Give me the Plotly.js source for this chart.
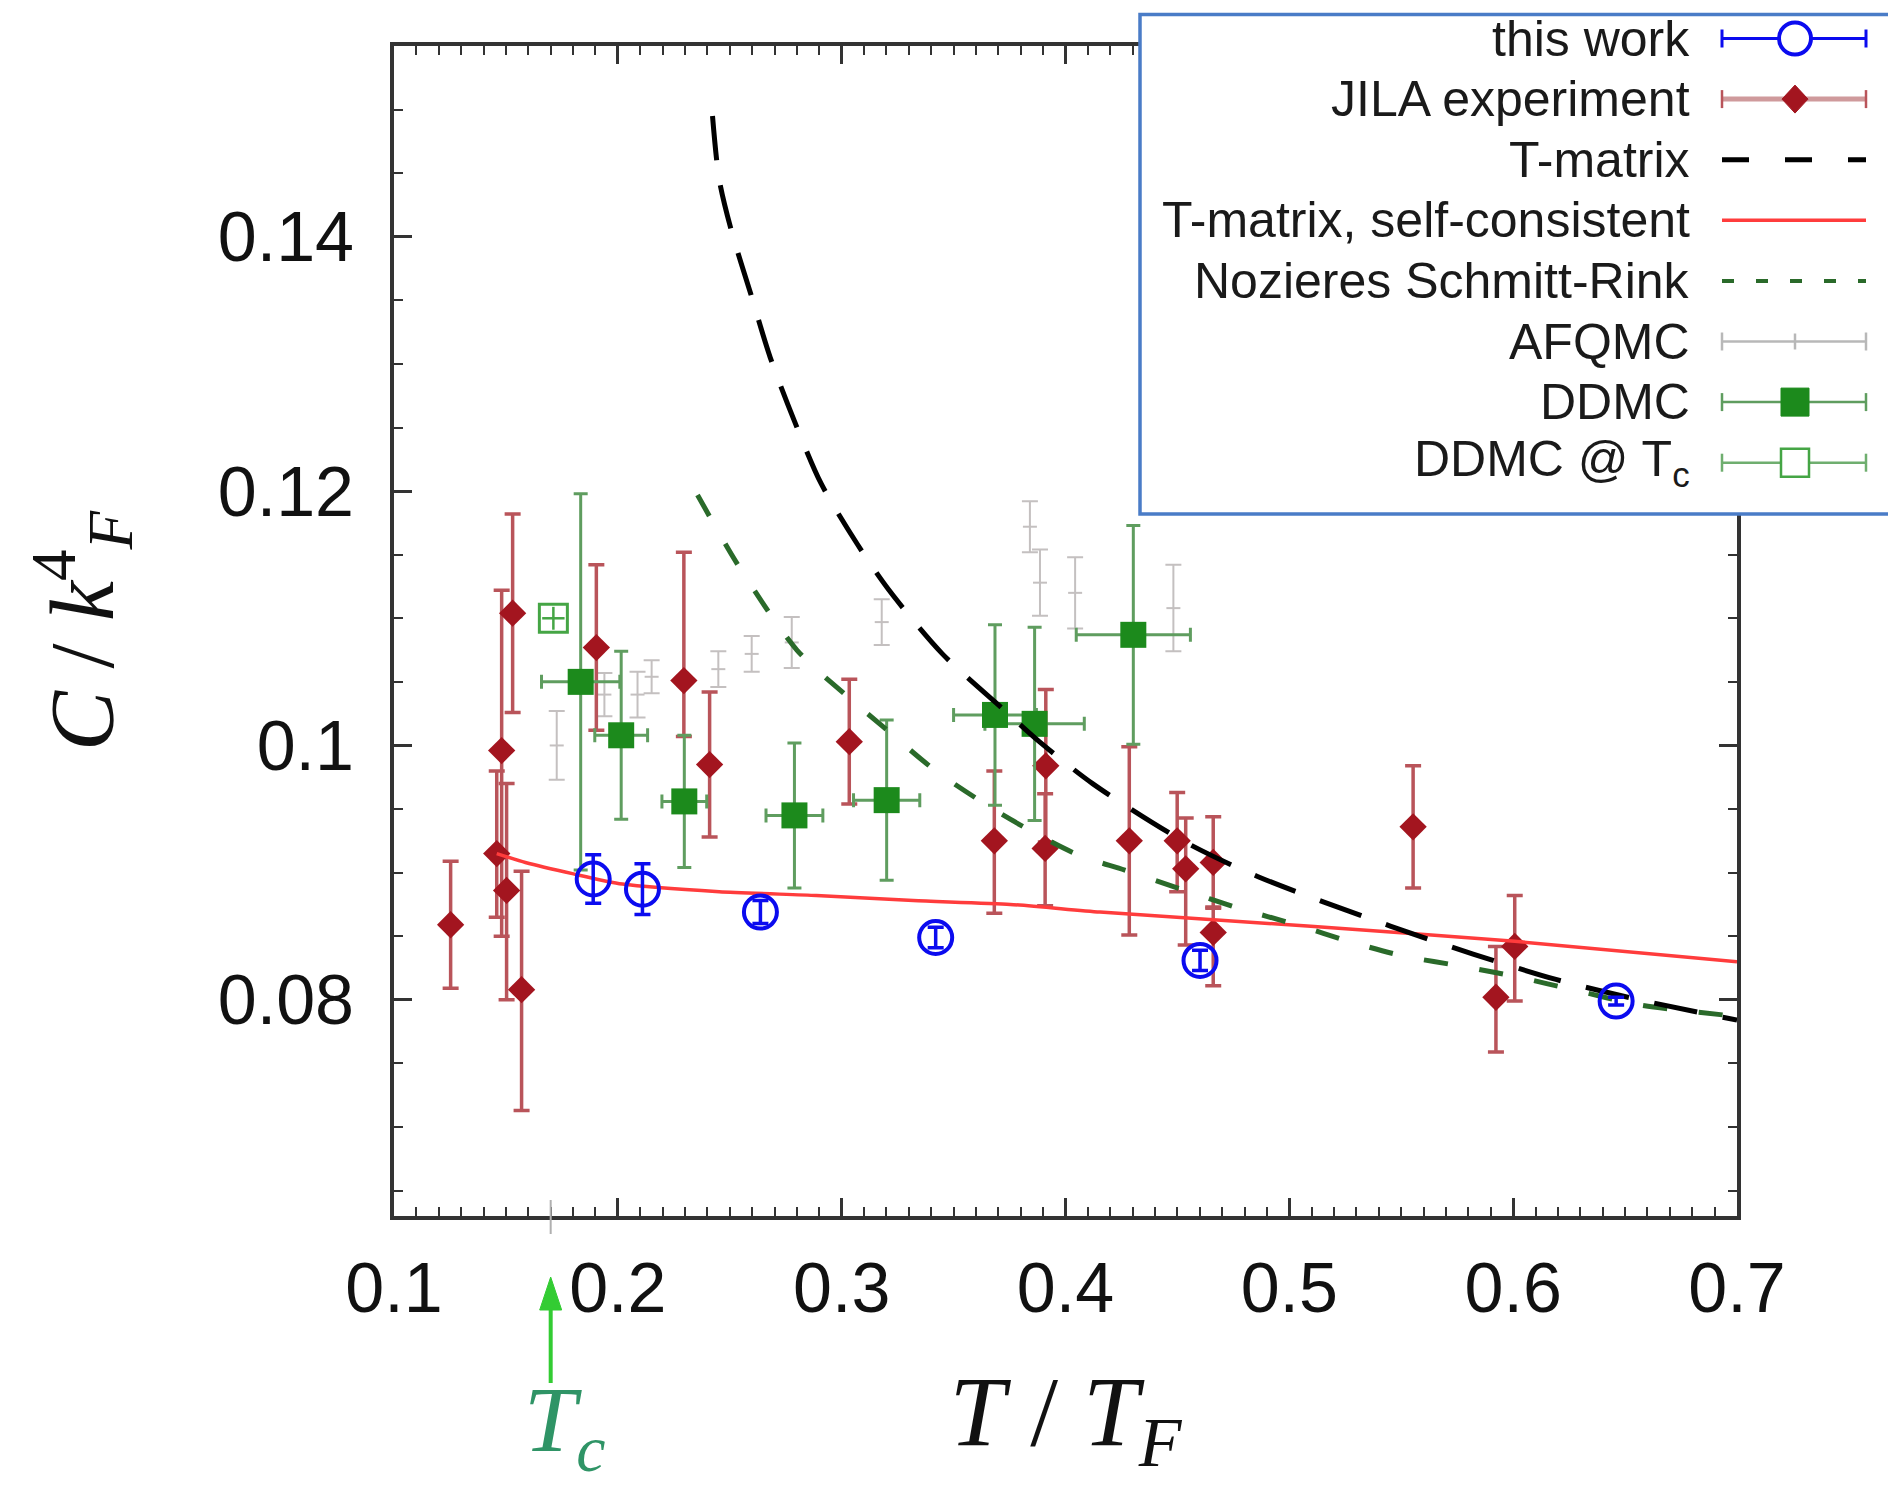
<!DOCTYPE html>
<html>
<head>
<meta charset="utf-8">
<script src="https://cdn.plot.ly/plotly-3.0.1.min.js"></script>
<style>
html,body{margin:0;padding:0;background:#fff;}
#chart{width:1888px;height:1489px;}
</style>
</head>
<body>
<div id="chart"></div>
<script>
// ---------------- data ----------------
const xTickVals = [0.1, 0.2, 0.3, 0.4, 0.5, 0.6, 0.7];
const xTickText = ["0.1", "0.2", "0.3", "0.4", "0.5", "0.6", "0.7"];
const yTickVals = [0.08, 0.1, 0.12, 0.14];
const yTickText = ["0.08", "0.1", "0.12", "0.14"];

const TC = 0.17;

// this work
const workT   = [0.189, 0.211, 0.2637, 0.342, 0.4601, 0.646];
const workC   = [0.0895, 0.0887, 0.0869, 0.0849, 0.0831, 0.0799];
const workErr = [0.0019, 0.0020, 0.0009, 0.0008, 0.0008, 0.0003];

// JILA experiment
const jilaT     = [0.1253, 0.1459, 0.1481, 0.1503, 0.1530, 0.1570, 0.1904, 0.2295, 0.2410, 0.3034, 0.3682, 0.3912, 0.3909, 0.4285, 0.4499, 0.4537, 0.4660, 0.4660, 0.5553, 0.5923, 0.6007];
const jilaC     = [0.0859, 0.0915, 0.0996, 0.0886, 0.1104, 0.0808, 0.1077, 0.1051, 0.0985, 0.1003, 0.0925, 0.0984, 0.0919, 0.0925, 0.0925, 0.0903, 0.0908, 0.0853, 0.0936, 0.0802, 0.0842];
const jilaPlus  = [0.0050, 0.0065, 0.0126, 0.0084, 0.0078, 0.0093, 0.0065, 0.0101, 0.0057, 0.0049, 0.0055, 0.0060, 0.0043, 0.0074, 0.0038, 0.0040, 0.0036, 0.0020, 0.0048, 0.0040, 0.0040];
const jilaMinus = [0.0050, 0.0050, 0.0146, 0.0086, 0.0078, 0.0095, 0.0065, 0.0044, 0.0057, 0.0049, 0.0057, 0.0060, 0.0045, 0.0074, 0.0040, 0.0060, 0.0036, 0.0042, 0.0048, 0.0043, 0.0043];

// T-matrix
const tmT = [0.2423, 0.2453, 0.2507, 0.2594, 0.2681, 0.2789, 0.2908, 0.3071, 0.3212, 0.345, 0.3731, 0.3883, 0.4121, 0.4525, 0.4858, 0.5451, 0.5821, 0.6191, 0.6562, 0.7];
const tmC = [0.1495, 0.1445, 0.1405, 0.1355, 0.1305, 0.1255, 0.1206, 0.1158, 0.1122, 0.1072, 0.1027, 0.1003, 0.0970, 0.0925, 0.0897, 0.0858, 0.0836, 0.0816, 0.0800, 0.0784];

// T-matrix, self-consistent
const scT = [0.1459, 0.1587, 0.1802, 0.202, 0.2453, 0.2887, 0.332, 0.3753, 0.4154, 0.508, 0.6007, 0.7];
const scC = [0.0915, 0.0908, 0.0899, 0.0891, 0.0885, 0.0882, 0.0878, 0.0875, 0.0869, 0.0858, 0.0846, 0.0830];

// Nozieres Schmitt-Rink
const nsrT = [0.2356, 0.254, 0.28, 0.3016, 0.319, 0.3428, 0.3753, 0.4056, 0.4265, 0.4525, 0.4765, 0.5043, 0.5266, 0.5507, 0.5784, 0.6025, 0.6266, 0.6562, 0.6785, 0.7];
const nsrC = [0.1197, 0.1141, 0.1075, 0.1040, 0.1014, 0.0979, 0.0942, 0.0914, 0.0902, 0.08865, 0.08725, 0.08584, 0.0846, 0.08345, 0.0826, 0.08177, 0.0808, 0.0796, 0.0791, 0.0787];

// AFQMC
const afT   = [0.1727, 0.1940, 0.2088, 0.2151, 0.2449, 0.2598, 0.2777, 0.3179, 0.3841, 0.3886, 0.4043, 0.4482];
const afC   = [0.1000, 0.1040, 0.1040, 0.1054, 0.1060, 0.1072, 0.1081, 0.1097, 0.1172, 0.1128, 0.1120, 0.1108];
const afErr = [0.0027, 0.0017, 0.0018, 0.0013, 0.0014, 0.0014, 0.0020, 0.0018, 0.0020, 0.0026, 0.0028, 0.0034];

// DDMC
const ddT    = [0.1834, 0.2015, 0.2297, 0.2789, 0.3201, 0.3685, 0.3862, 0.4303];
const ddC    = [0.1050, 0.1008, 0.0956, 0.0945, 0.0957, 0.1024, 0.1017, 0.1087];
const ddErrC = [0.0148, 0.0066, 0.0052, 0.0057, 0.0063, 0.0071, 0.0076, 0.0086];
const ddErrT = [0.0175, 0.0118, 0.0100, 0.0127, 0.0148, 0.0185, 0.0222, 0.0255];

// DDMC @ Tc
const ddTcT    = [0.1712];
const ddTcC    = [0.1100];
const ddTcErrC = [0.0009];
const ddTcErrT = [0.0050];

const legendNames = ["this work", "JILA experiment", "T-matrix", "T-matrix, self-consistent",
  "Nozieres Schmitt-Rink", "AFQMC", "DDMC", "DDMC @ T<sub>c</sub>"];

// ---------------- styling ----------------
const BLUE = "#0b0bef", JILA_M = "#a3151f", JILA_E = "#b9545a";
const DD_M = "#1c8a1c", DD_E = "#5f9d5f", DDTC = "#45a545";
const AF = "#c4c0c0", RED = "#ff3c3c", NSR = "#2a6a2a";

const X_RANGE = [0.1, 0.7], Y_RANGE = [0.063, 0.155];
const W = 1888, H = 1489, ML = 394, MR = 151, MT = 46, MB = 273;
const PW = W - ML - MR, PH = H - MT - MB;
const px = fx => (fx - ML) / PW;
const py = fy => (H - MB - fy) / PH;
const xPaper = v => (v - X_RANGE[0]) / (X_RANGE[1] - X_RANGE[0]);

const traces = [
  { name: "AFQMC", x: afT, y: afC, type: "scatter", mode: "markers",
    marker: { symbol: "line-ew", size: 10, color: AF, line: { width: 2, color: AF } },
    error_y: { type: "data", array: afErr, visible: true, color: AF, thickness: 2, width: 8 } },
  { name: "JILA experiment", x: jilaT, y: jilaC, type: "scatter", mode: "markers",
    marker: { symbol: "diamond", size: 21, color: JILA_M },
    error_y: { type: "data", symmetric: false, array: jilaPlus, arrayminus: jilaMinus, visible: true, color: JILA_E, thickness: 3.5, width: 8 } },
  { name: "DDMC", x: ddT, y: ddC, type: "scatter", mode: "markers",
    marker: { symbol: "square", size: 26, color: DD_M },
    error_y: { type: "data", array: ddErrC, visible: true, color: DD_E, thickness: 3, width: 7 },
    error_x: { type: "data", array: ddErrT, visible: true, color: DD_E, thickness: 3, width: 7 } },
  { name: "DDMC @ Tc", x: ddTcT, y: ddTcC, type: "scatter", mode: "markers",
    marker: { symbol: "square-open", size: 28, color: DDTC, line: { width: 3, color: DDTC } },
    error_y: { type: "data", array: ddTcErrC, visible: true, color: DDTC, thickness: 2.5, width: 0 },
    error_x: { type: "data", array: ddTcErrT, visible: true, color: DDTC, thickness: 2.5, width: 0 } },
  { name: "T-matrix, self-consistent", x: scT, y: scC, type: "scatter", mode: "lines",
    line: { color: RED, width: 3.5, shape: "spline", smoothing: 0.6 } },
  { name: "Nozieres Schmitt-Rink", x: nsrT, y: nsrC, type: "scatter", mode: "lines",
    line: { color: NSR, width: 5, dash: "24px,32px", shape: "spline", smoothing: 0.8 } },
  { name: "T-matrix", x: tmT, y: tmC, type: "scatter", mode: "lines",
    line: { color: "#000", width: 5, dash: "44px,26px", shape: "spline", smoothing: 0.8 } },
  { name: "this work", x: workT, y: workC, type: "scatter", mode: "markers",
    marker: { symbol: "circle-open", size: 33, color: BLUE, line: { width: 4, color: BLUE } },
    error_y: { type: "data", array: workErr, visible: true, color: BLUE, thickness: 3.5, width: 8 } }
];

// ---------------- custom legend (symbol on the right, gnuplot-like) ----------------
const shapes = [];
const annotations = [];

shapes.push({ type: "rect", xref: "paper", yref: "paper", layer: "above",
  x0: px(1140), x1: px(1900), y0: py(514), y1: py(14.5),
  fillcolor: "#fff", line: { color: "#4a7cc7", width: 3.5 } });

const LX0 = 1722, LX1 = 1866, LXC = 1795, TXR = 1692;
const rowY = i => 38.5 + 60.6 * i;

function hline(fy, color, width, dash) {
  shapes.push({ type: "line", xref: "paper", yref: "paper", layer: "above",
    x0: px(LX0), x1: px(LX1), y0: py(fy), y1: py(fy), line: { color, width, dash: dash || "solid" } });
}
function caps(fy, color, width, h) {
  [LX0, LX1].forEach(x => shapes.push({ type: "line", xref: "paper", yref: "paper", layer: "above",
    x0: px(x), x1: px(x), y0: py(fy - h), y1: py(fy + h), line: { color, width } }));
}

const legendStyles = [
  fy => { hline(fy, BLUE, 3); caps(fy, BLUE, 3, 9);
          shapes.push({ type: "circle", xref: "paper", yref: "paper", layer: "above",
            x0: px(LXC - 16), x1: px(LXC + 16), y0: py(fy + 16), y1: py(fy - 16),
            fillcolor: "#fff", line: { color: BLUE, width: 4 } }); },
  fy => { hline(fy, "#cf9a9c", 5); caps(fy, JILA_E, 2.5, 9);
          shapes.push({ type: "path", xref: "paper", yref: "paper", layer: "above",
            path: `M ${px(LXC - 13)} ${py(fy)} L ${px(LXC)} ${py(fy - 14)} L ${px(LXC + 13)} ${py(fy)} L ${px(LXC)} ${py(fy + 14)} Z`,
            fillcolor: JILA_M, line: { color: JILA_M, width: 1 } }); },
  fy => { hline(fy, "#000", 5, "27px,36px"); },
  fy => { hline(fy, RED, 3.5); },
  fy => { hline(fy, NSR, 4, "12px,22px"); },
  fy => { hline(fy, "#b8b8b8", 2.5); caps(fy, "#b8b8b8", 2.5, 9);
          shapes.push({ type: "line", xref: "paper", yref: "paper", layer: "above",
            x0: px(LXC), x1: px(LXC), y0: py(fy - 8), y1: py(fy + 8), line: { color: "#b8b8b8", width: 2.5 } }); },
  fy => { hline(fy, DD_E, 2.5); caps(fy, DD_E, 2.5, 9);
          shapes.push({ type: "rect", xref: "paper", yref: "paper", layer: "above",
            x0: px(LXC - 14), x1: px(LXC + 14), y0: py(fy + 14), y1: py(fy - 14),
            fillcolor: DD_M, line: { color: DD_M, width: 1 } }); },
  fy => { hline(fy, "#6fae6f", 2.5); caps(fy, "#6fae6f", 2.5, 9);
          shapes.push({ type: "rect", xref: "paper", yref: "paper", layer: "above",
            x0: px(LXC - 14), x1: px(LXC + 14), y0: py(fy + 14), y1: py(fy - 14),
            fillcolor: "#fff", line: { color: DDTC, width: 2.5 } }); }
];

legendNames.forEach((name, i) => {
  const fy = rowY(i);
  legendStyles[i](fy);
  annotations.push({ xref: "paper", yref: "paper", x: px(TXR), y: py(fy),
    xanchor: "right", yanchor: "middle", showarrow: false, text: name,
    font: { family: "Liberation Sans, Arial, sans-serif", size: 50, color: "#1a1a1a" } });
});

// ---------------- Tc marker (arrow below the axis) ----------------
const tcX = xPaper(TC);
const tcPx = ML + tcX * PW;
shapes.push({ type: "line", xref: "paper", yref: "paper", layer: "above",
  x0: tcX, x1: tcX, y0: py(1200), y1: py(1234), line: { color: "#b0b0b0", width: 2 } });
shapes.push({ type: "line", xref: "paper", yref: "paper", layer: "above",
  x0: tcX, x1: tcX, y0: py(1383), y1: py(1305), line: { color: "#33cc33", width: 4 } });
shapes.push({ type: "path", xref: "paper", yref: "paper", layer: "above",
  path: `M ${px(tcPx)} ${py(1277)} L ${px(tcPx - 11)} ${py(1310)} L ${px(tcPx + 11)} ${py(1310)} Z`,
  fillcolor: "#33cc33", line: { color: "#33cc33", width: 1 } });
annotations.push({ x: tcX, xref: "paper", y: py(1426), yref: "paper", xanchor: "center", yanchor: "middle",
  xshift: 14, showarrow: false, text: "<i>T<sub>c</sub></i>",
  font: { family: "Liberation Serif, serif", size: 94, color: "#2f9466" } });

// ---------------- layout ----------------
const axisCommon = {
  showline: true, linewidth: 4, linecolor: "#333", mirror: "allticks",
  ticks: "inside", ticklen: 18, tickwidth: 3, tickcolor: "#333",
  showgrid: false, zeroline: false, tickmode: "array",
  tickfont: { family: "Liberation Sans, Arial, sans-serif", size: 70, color: "#111" }
};

const layout = {
  width: W, height: H,
  margin: { l: ML, r: MR, t: MT, b: MB, pad: 0 },
  paper_bgcolor: "#fff", plot_bgcolor: "#fff",
  showlegend: false,
  xaxis: Object.assign({}, axisCommon, {
    range: X_RANGE, tickvals: xTickVals, ticktext: xTickText,
    ticklabelstandoff: 8,
    minor: { tickmode: "linear", tick0: 0.1, dtick: 0.01, ticks: "inside", ticklen: 9, tickwidth: 2, tickcolor: "#333" },
    title: { text: "<i>T</i> / <i>T<sub>F</sub></i>", standoff: 50,
      font: { family: "Liberation Serif, serif", size: 100, color: "#111" } }
  }),
  yaxis: Object.assign({}, axisCommon, {
    range: Y_RANGE, tickvals: yTickVals, ticktext: yTickText,
    ticklabelstandoff: 22,
    minor: { tickmode: "linear", tick0: 0, dtick: 0.005, ticks: "inside", ticklen: 9, tickwidth: 2, tickcolor: "#333" },
    title: { text: "<i>C</i> / <i>k</i><sup>4</sup><i><sub>F</sub></i>", standoff: 75,
      font: { family: "Liberation Serif, serif", size: 90, color: "#111" } }
  }),
  shapes: shapes,
  annotations: annotations
};

Plotly.newPlot("chart", traces, layout, { displayModeBar: false, staticPlot: true });
</script>
</body>
</html>
